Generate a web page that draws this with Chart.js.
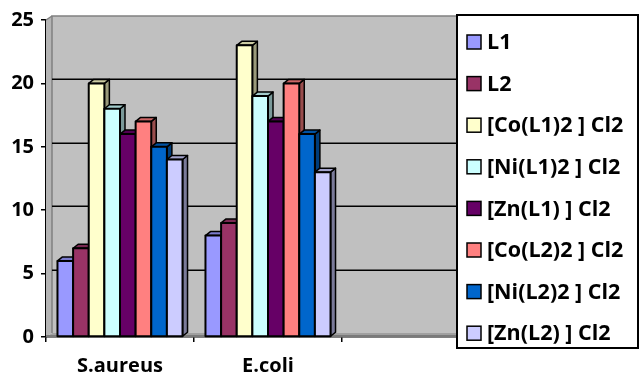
<!DOCTYPE html>
<html>
<head>
<meta charset="utf-8">
<script src="https://cdn.jsdelivr.net/npm/chart.js@4/dist/chart.umd.min.js"></script>
<style>
  html, body { margin: 0; padding: 0; background: #ffffff; }
  #wrap { width: 639px; height: 374px; }
</style>
</head>
<body>
<div id="wrap"><canvas id="c" width="639" height="374"></canvas></div>
<script>
// Inhibition zones per organism (third slot left empty, as in the sheet)
const categories = ['S.aureus', 'E.coli', ''];
const seriesNames = ['L1', 'L2', '[Co(L1)2 ] Cl2', '[Ni(L1)2 ] Cl2', '[Zn(L1) ] Cl2',
                     '[Co(L2)2 ] Cl2', '[Ni(L2)2 ] Cl2', '[Zn(L2) ] Cl2'];
const L1      = [6, 8, null];
const L2      = [7, 9, null];
const CoL1    = [20, 23, null];
const NiL1    = [18, 19, null];
const ZnL1    = [16, 17, null];
const CoL2    = [17, 20, null];
const NiL2    = [15, 16, null];
const ZnL2    = [14, 13, null];
const yTicks  = [0, 5, 10, 15, 20, 25];

const seriesValues = [L1, L2, CoL1, NiL1, ZnL1, CoL2, NiL2, ZnL2];
const colors = ['#9999FF', '#993366', '#FFFFCC', '#CCFFFF', '#660066', '#FF8080', '#0066CC', '#CCCCFF'];

const FONT = '"Open Sans", "DejaVu Sans", sans-serif';
const WALL_DX = 6, WALL_DY = 4;   // depth of walls/floor
const BAR_DX = 5, BAR_DY = 4;     // depth of each bar

function shade(hex, f) {
  const n = parseInt(hex.slice(1), 16);
  const r = Math.round(((n >> 16) & 255) * f);
  const g = Math.round(((n >> 8) & 255) * f);
  const b = Math.round((n & 255) * f);
  return 'rgb(' + r + ',' + g + ',' + b + ')';
}

function poly(ctx, pts, fill, stroke, lw) {
  ctx.beginPath();
  ctx.moveTo(pts[0][0], pts[0][1]);
  for (let i = 1; i < pts.length; i++) ctx.lineTo(pts[i][0], pts[i][1]);
  ctx.closePath();
  if (fill) { ctx.fillStyle = fill; ctx.fill(); }
  if (stroke) { ctx.strokeStyle = stroke; ctx.lineWidth = lw || 1; ctx.stroke(); }
}

// Grey back wall, side wall, floor and gridlines drawn in perspective
const wallsPlugin = {
  id: 'walls',
  beforeDatasetsDraw(chart) {
    const ctx = chart.ctx;
    const a = chart.chartArea;
    const y = chart.scales.y;
    const L = a.left, R = a.right, T = a.top, B = a.bottom;
    ctx.save();
    // back wall
    poly(ctx, [[L + WALL_DX, T - WALL_DY], [R + WALL_DX, T - WALL_DY], [R + WALL_DX, B - WALL_DY], [L + WALL_DX, B - WALL_DY]], '#C0C0C0');
    // side wall
    poly(ctx, [[L, T], [L + WALL_DX, T - WALL_DY], [L + WALL_DX, B - WALL_DY], [L, B]], '#B4B4B4');
    ctx.strokeStyle = '#808080';
    ctx.lineWidth = 1.5;
    ctx.beginPath();
    ctx.moveTo(L + WALL_DX, B - WALL_DY);
    ctx.lineTo(L + WALL_DX, T - WALL_DY);
    ctx.lineTo(R + WALL_DX, T - WALL_DY);
    ctx.stroke();
    ctx.beginPath();
    ctx.moveTo(L, T);
    ctx.lineTo(L + WALL_DX, T - WALL_DY);
    ctx.stroke();
    // floor
    poly(ctx, [[L, B], [R, B], [R + WALL_DX, B - WALL_DY], [L + WALL_DX, B - WALL_DY]], '#A0A0A0');
    ctx.strokeStyle = '#7A7A7A';
    ctx.lineWidth = 2;
    ctx.beginPath();
    ctx.moveTo(L, B - 1);
    ctx.lineTo(R, B - 1);
    ctx.stroke();
    // gridlines on the back wall
    ctx.strokeStyle = '#000000';
    ctx.lineWidth = 1.5;
    yTicks.forEach(v => {
      if (v === yTicks[0] || v === yTicks[yTicks.length - 1]) return;
      const py = Math.round(y.getPixelForValue(v) - WALL_DY) + 0.25;
      ctx.beginPath();
      ctx.moveTo(L + WALL_DX, py);
      ctx.lineTo(R + WALL_DX, py);
      ctx.stroke();
    });
    ctx.restore();
  }
};

// Gives every bar a lit top and a shaded right side
const bars3dPlugin = {
  id: 'bars3d',
  afterDatasetsDraw(chart) {
    const ctx = chart.ctx;
    ctx.save();
    ctx.lineJoin = 'round';
    const n = chart.data.labels.length;
    for (let c = 0; c < n; c++) {
      chart.data.datasets.forEach((ds, i) => {
        const meta = chart.getDatasetMeta(i);
        const el = meta.data[c];
        if (!el || ds.data[c] == null) return;
        const p = el.getProps(['x', 'y', 'base', 'width'], true);
        const x0 = p.x - p.width / 2, x1 = p.x + p.width / 2;
        const top = p.y, base = p.base;
        const col = ds.backgroundColor;
        // right side
        poly(ctx, [[x1, top], [x1 + BAR_DX, top - BAR_DY], [x1 + BAR_DX, base - BAR_DY], [x1, base]], shade(col, 0.6), '#000', 1.5);
        // top
        poly(ctx, [[x0, top], [x0 + BAR_DX, top - BAR_DY], [x1 + BAR_DX, top - BAR_DY], [x1, top]], shade(col, 0.8), '#000', 1.5);
        // front
        poly(ctx, [[x0, top], [x1, top], [x1, base], [x0, base]], col, '#000', 2);
      });
    }
    ctx.restore();
  }
};

// Boxed legend laid over the right part of the plot
const boxLegendPlugin = {
  id: 'boxLegend',
  afterDraw(chart) {
    const ctx = chart.ctx;
    const bx = 457, by = 15, bw = 181, bh = 333;
    ctx.save();
    ctx.fillStyle = '#ffffff';
    ctx.fillRect(bx, by, bw, bh);
    ctx.strokeStyle = '#000000';
    ctx.lineWidth = 2;
    ctx.strokeRect(bx, by, bw, bh);
    ctx.font = 'bold 21.5px ' + FONT;
    ctx.textBaseline = 'middle';
    ctx.textAlign = 'left';
    chart.data.datasets.forEach((ds, i) => {
      const cy = 42 + i * 41.6;
      ctx.fillStyle = ds.backgroundColor;
      ctx.fillRect(467, cy - 7, 14, 14);
      ctx.strokeStyle = '#000';
      ctx.lineWidth = 1.5;
      ctx.strokeRect(467, cy - 7, 14, 14);
      ctx.fillStyle = '#000';
      ctx.fillText(ds.label, 487, cy + 1);
    });
    ctx.restore();
  }
};

new Chart(document.getElementById('c'), {
  type: 'bar',
  data: {
    labels: categories,
    datasets: seriesNames.map((name, i) => ({
      label: name,
      data: seriesValues[i],
      backgroundColor: colors[i],
      borderColor: '#000000',
      borderWidth: 0,
      categoryPercentage: 0.845,
      barPercentage: 1.0
    }))
  },
  options: {
    responsive: false,
    animation: false,
    devicePixelRatio: 1,
    layout: { padding: { top: 20, right: 149, left: 0, bottom: 0 } },
    plugins: {
      legend: { display: false },
      tooltip: { enabled: false }
    },
    scales: {
      x: {
        afterFit(scale) { scale.height = 37; },
        grid: { display: true, offset: true, drawOnChartArea: false, drawTicks: true, tickLength: 5, color: '#000', lineWidth: 1.5 },
        border: { display: true, color: '#000', width: 1.5 },
        ticks: { color: '#000', font: { family: FONT, size: 20, weight: 'bold' }, padding: 12, maxRotation: 0 }
      },
      y: {
        min: 0, max: 25,
        afterFit(scale) { scale.width = 46; },
        afterBuildTicks(scale) { scale.ticks = yTicks.map(v => ({ value: v })); },
        grid: { display: true, drawOnChartArea: false, drawTicks: true, tickLength: 5, color: '#000', lineWidth: 1.5 },
        border: { display: true, color: '#000', width: 1.5 },
        ticks: { color: '#000', font: { family: FONT, size: 20, weight: 'bold' }, padding: 7 }
      }
    }
  },
  plugins: [wallsPlugin, bars3dPlugin, boxLegendPlugin]
});
</script>
</body>
</html>
